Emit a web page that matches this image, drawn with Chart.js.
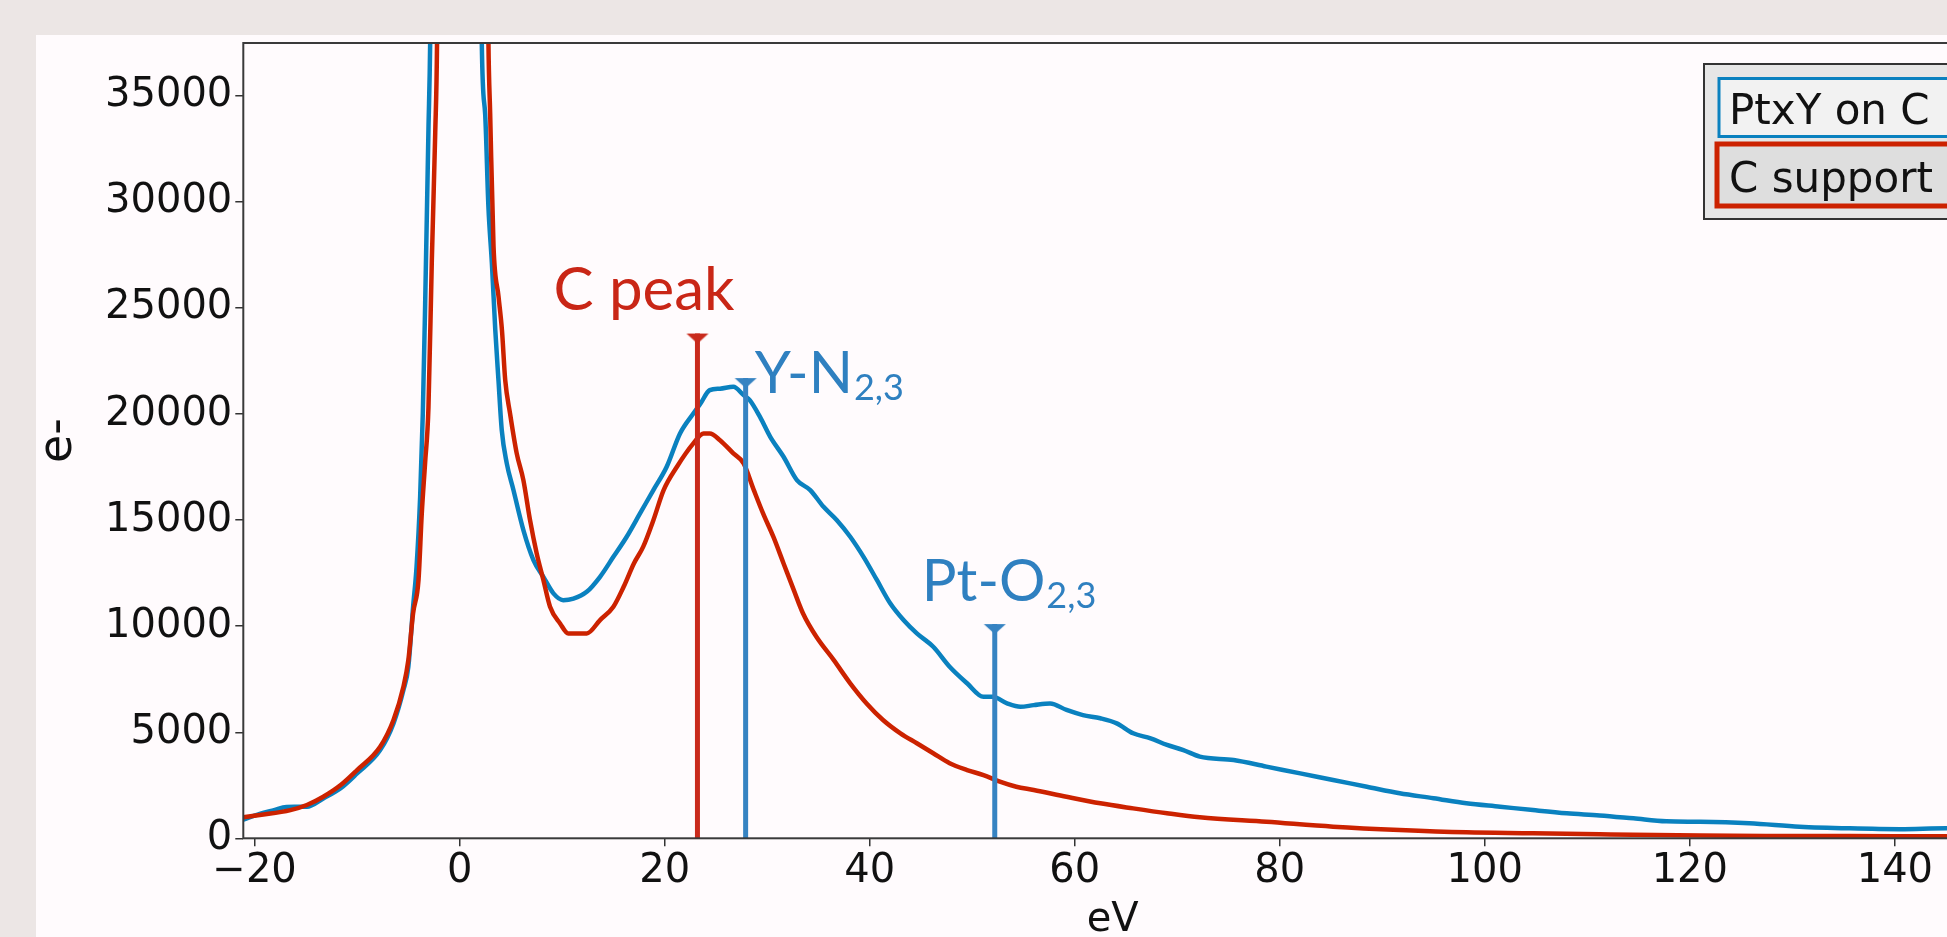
<!DOCTYPE html>
<html>
<head>
<meta charset="utf-8">
<title>EELS low-loss</title>
<script src="https://cdn.jsdelivr.net/npm/chart.js@4.4.1/dist/chart.umd.min.js"></script>
<style>
  html, body { margin: 0; padding: 0; width: 1947px; height: 937px; overflow: hidden; background: #ece6e5; }
  #panel { position: absolute; left: 36px; top: 35px; width: 2000px; height: 910px; background: #fffbfd; }
  #spectrum { position: absolute; left: 0; top: 0; width: 2000px; height: 910px; }
</style>
</head>
<body>
<div id="panel"><canvas id="spectrum" width="2000" height="910"></canvas></div>
<script>
/* ── Data ────────────────────────────────────────────────── */
const energyPtxY = [-21.1,-19.5,-18.1,-16.9,-14.9,-13.3,-11.6,-10.0,-7.75,-6.45,-5.48,-5.0,-4.54,-4.2,-3.85,-3.59,-3.36,-3.04,-2.87,
  0,
  2.16,2.49,2.81,3.15,3.48,3.79,4.11,4.6,5.25,6.22,7.2,8.17,9.15,10.1,11.1,12.4,13.7,15.0,16.3,17.6,18.9,20.2,21.5,22.8,23.5,24.4,25.4,26.7,27.7,28.3,29.3,30.3,31.6,32.9,34.2,35.5,36.8,38.1,39.4,40.7,42.0,43.3,44.6,46.2,47.8,49.5,51.1,52.0,53.4,54.7,56.0,57.6,59.2,60.8,62.5,64.1,65.7,67.4,69.0,70.6,72.2,75.5,78.7,82.0,85.2,88.5,91.7,95.0,98.2,101.5,104.7,108.0,111.2,114.5,117.7,121.0,125.8,130.7,135.6,140.5,145.0,148.5];
const countsPtxY = [880,1150,1330,1480,1490,1880,2360,3060,4160,5420,6990,8090,10900,12800,16100,20030,25200,33400,37600,
  200000,
  37600,34170,29770,27100,23960,21600,19250,17680,16420,14530,13120,12330,11550,11230,11300,11620,12330,13270,14220,15320,16420,17520,19090,20030,20500,21130,21200,21290,20900,20660,19870,18930,17990,16890,16420,15630,15000,14220,13270,12180,11080,10290,9660,9030,8090,7310,6670,6670,6360,6200,6280,6360,6050,5810,5660,5420,4950,4710,4400,4160,3850,3690,3380,3060,2750,2430,2120,1890,1650,1490,1330,1180,1080,940,800,780,710,550,470,430,470,450];

const energyC = [-21.1,-19.5,-16.5,-14.9,-13.3,-11.6,-10.0,-7.75,-6.45,-5.48,-5.0,-4.54,-4.01,-3.69,-3.37,-3.04,-2.71,-2.38,-2.2,
  0,
  2.81,2.98,3.31,3.8,4.13,4.45,4.92,5.57,6.22,6.87,7.52,8.17,8.82,9.8,10.6,12.4,13.7,15.0,16.0,17.0,17.9,18.9,19.9,21.2,22.8,23.8,24.4,25.4,26.7,27.7,28.7,29.6,30.6,31.6,32.6,33.5,34.8,36.5,38.1,39.7,41.3,43.0,44.6,46.2,47.8,49.5,51.1,52.7,54.3,56.0,59.2,62.5,65.7,69.0,72.2,78.7,85.2,91.7,98.2,104.7,111.2,121.0,130.0,140.0,148.5];
const countsC = [990,1100,1330,1570,1960,2510,3220,4320,5580,7150,8400,10600,12180,15320,17680,20300,27260,33230,37600,
  200000,
  37600,34170,27890,25530,23960,21600,20030,18150,16890,15000,13430,12180,10920,10130,9660,9660,10290,10920,11860,12960,13740,15000,16420,17520,18620,19090,19090,18770,18150,17680,16420,15320,14220,12960,11700,10600,9500,8400,7310,6360,5580,4950,4480,4010,3540,3220,2980,2670,2430,2280,1960,1650,1410,1180,990,780,550,390,280,240,190,130,110,100,90];

const seriesNames = ['PtxY on C', 'C support'];

const markerNames  = ['C peak', 'Y-N', 'Pt-O'];
const markerSubs   = ['', '2,3', '2,3'];
const markerEnergy = [23.2, 27.9, 52.2];
const markerTop    = [23800, 21700, 10100];
const markerSeries = [1, 0, 0];

const xTicks = [-20, 0, 20, 40, 60, 80, 100, 120, 140];
const yTicks = [0, 5000, 10000, 15000, 20000, 25000, 30000, 35000];
const xRange = [-21.1, 148.5];
const yRange = [0, 37500];

/* ── Styles ─────────────────────────────────────────────── */
const lineColors   = ['#0a81bf', '#cc2200'];
const markerColors = ['#c92a1c', '#3683c2'];   // [red, blue]
const labelColors  = ['#c92616', '#2f80c0'];
const labelLayout  = [
  { dx: -144, dy: -24, size: 60, sub: 36 },
  { dx: 9,    dy: 15,  size: 58, sub: 36 },
  { dx: -73,  dy: -23, size: 58, sub: 36 },
];
const TICK_FONT = { family: 'DejaVu Sans', size: 40 };

function triangle(color) {
  const c = document.createElement('canvas');
  c.width = 24; c.height = 24;
  const g = c.getContext('2d');
  g.fillStyle = color;
  g.beginPath();
  g.moveTo(1, 12); g.lineTo(23, 12); g.lineTo(12, 22);
  g.closePath();
  g.fill();
  return c;
}

/* ── Datasets ───────────────────────────────────────────── */
const toPts = (xs, ys) => xs.map((x, i) => ({ x: x, y: ys[i] }));

const datasets = [
  {
    label: seriesNames[0], data: toPts(energyPtxY, countsPtxY),
    borderColor: lineColors[0], borderWidth: 4.5, pointRadius: 0,
    cubicInterpolationMode: 'monotone', clip: 0, order: 3, isSeries: true,
  },
  {
    label: seriesNames[1], data: toPts(energyC, countsC),
    borderColor: lineColors[1], borderWidth: 4.5, pointRadius: 0,
    cubicInterpolationMode: 'monotone', clip: 0, order: 2, isSeries: true,
  },
];
markerEnergy.forEach((e, i) => {
  const col = markerSeries[i] === 1 ? markerColors[0] : markerColors[1];
  datasets.push({
    label: markerNames[i], data: [{ x: e, y: 0 }, { x: e, y: markerTop[i] }],
    borderColor: col, borderWidth: 5, pointRadius: [0, 12],
    pointStyle: triangle(col), clip: 0, order: 1,
  });
});

/* ── Plugins ────────────────────────────────────────────── */
const frame = {
  id: 'frame',
  afterDatasetsDraw(chart) {
    const { ctx, chartArea: a } = chart;
    ctx.save();
    ctx.strokeStyle = '#3a3a3a';
    ctx.lineWidth = 2;
    ctx.strokeRect(a.left, a.top, a.right - a.left, a.bottom - a.top);
    ctx.restore();
  }
};

const peakLabels = {
  id: 'peakLabels',
  afterDatasetsDraw(chart) {
    const { ctx, scales } = chart;
    ctx.save();
    ctx.textBaseline = 'alphabetic';
    markerNames.forEach((name, i) => {
      const L = labelLayout[i];
      const px = scales.x.getPixelForValue(markerEnergy[i]) + L.dx;
      const py = scales.y.getPixelForValue(markerTop[i]) + L.dy;
      ctx.fillStyle = markerSeries[i] === 1 ? labelColors[0] : labelColors[1];
      ctx.font = L.size + 'px Lato';
      ctx.fillText(name, px, py);
      if (markerSubs[i]) {
        const w = ctx.measureText(name).width;
        ctx.font = L.sub + 'px Lato';
        ctx.fillText(markerSubs[i], px + w + 1, py + 7);
      }
    });
    ctx.restore();
  }
};

const boxLegend = {
  id: 'boxLegend',
  afterDraw(chart) {
    const ctx = chart.ctx;
    const names = chart.data.datasets.filter(d => d.isSeries).map(d => d.label);
    ctx.save();
    // outer box
    ctx.fillStyle = '#e6e6e6';
    ctx.fillRect(1668, 29, 320, 155);
    ctx.strokeStyle = '#333';
    ctx.lineWidth = 2;
    ctx.strokeRect(1668, 29, 320, 155);
    // entry 1
    ctx.fillStyle = '#f2f2f2';
    ctx.fillRect(1683, 43.5, 290, 58);
    ctx.strokeStyle = lineColors[0];
    ctx.lineWidth = 3;
    ctx.strokeRect(1683, 43.5, 290, 58);
    // entry 2
    ctx.fillStyle = '#dedede';
    ctx.fillRect(1681, 109, 295, 62);
    ctx.strokeStyle = lineColors[1];
    ctx.lineWidth = 5;
    ctx.strokeRect(1681, 109, 295, 62);
    ctx.fillStyle = '#111';
    ctx.font = '42px "DejaVu Sans"';
    ctx.textBaseline = 'alphabetic';
    ctx.fillText(names[0], 1693, 89);
    ctx.fillText(names[1], 1693, 157);
    ctx.restore();
  }
};

/* ── Chart ──────────────────────────────────────────────── */
new Chart(document.getElementById('spectrum'), {
  type: 'line',
  data: { datasets },
  plugins: [frame, peakLabels, boxLegend],
  options: {
    responsive: false,
    animation: false,
    events: [],
    layout: { autoPadding: false, padding: { top: 8, right: 54, left: 0, bottom: 0 } },
    plugins: { legend: { display: false }, tooltip: { enabled: false } },
    scales: {
      x: {
        type: 'linear', min: xRange[0], max: xRange[1],
        afterBuildTicks: s => { s.ticks = xTicks.map(v => ({ value: v })); },
        afterFit: s => { s.height = 106.7; s.paddingLeft = 0; s.paddingRight = 0; },
        ticks: {
          autoSkip: false, maxRotation: 0, padding: 1, color: '#111', font: TICK_FONT,
          callback: v => v < 0 ? '\u2212' + Math.abs(v) : String(v),
        },
        grid: { drawOnChartArea: false, drawTicks: true, tickLength: 8, color: '#333', lineWidth: 1.5 },
        border: { display: false },
        title: { display: true, text: 'eV', color: '#111', font: TICK_FONT, padding: 0 },
      },
      y: {
        type: 'linear', min: yRange[0], max: yRange[1],
        afterBuildTicks: s => { s.ticks = yTicks.map(v => ({ value: v })); },
        afterFit: s => { s.width = 207.3; s.paddingTop = 0; s.paddingBottom = 0; },
        ticks: { autoSkip: false, padding: 3, color: '#111', font: TICK_FONT, callback: v => String(v) },
        grid: { drawOnChartArea: false, drawTicks: true, tickLength: 8, color: '#333', lineWidth: 1.5 },
        border: { display: false },
        title: { display: true, text: 'e-', color: '#111', font: { family: 'DejaVu Sans', size: 46 }, padding: { top: -5, bottom: 0 } },
      }
    }
  }
});
</script>
</body>
</html>
